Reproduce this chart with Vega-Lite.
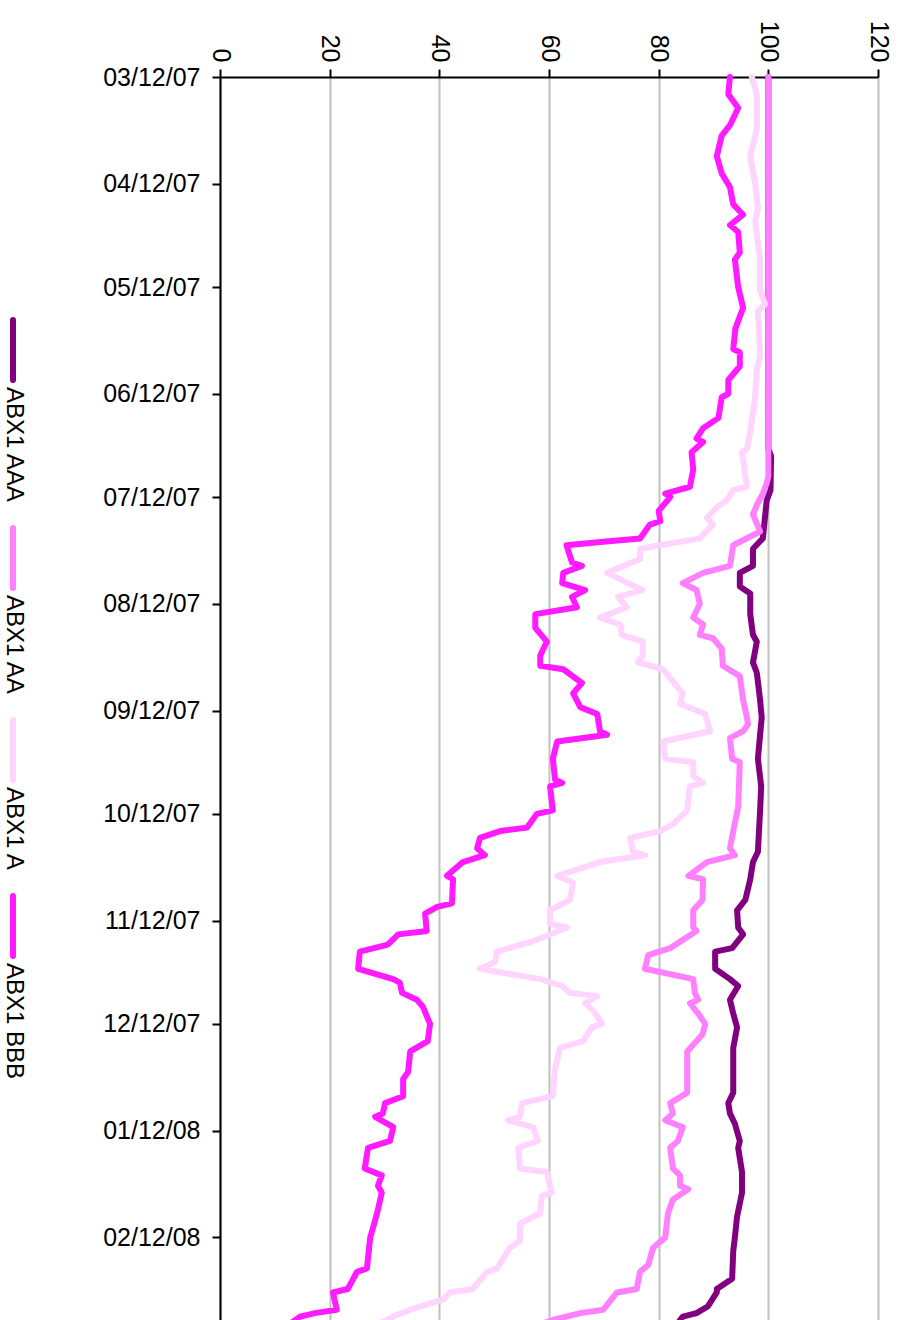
{
"$schema":"https://vega.github.io/schema/vega-lite/v6.json",
"autosize":"none",
"width":658,"height":1243,
"padding":{"left":220,"top":77,"right":25,"bottom":0},
"background":"white",
"data":{"values":[
{"s":"ABX1 AAA","d":"2007-03-12","v":100},{"s":"ABX1 AAA","d":"2007-06-28","v":100},{"s":"ABX1 AAA","d":"2007-06-30","v":100.5},{"s":"ABX1 AAA","d":"2007-07-10","v":100.4},{"s":"ABX1 AAA","d":"2007-07-13","v":99.7},{"s":"ABX1 AAA","d":"2007-07-24","v":99},{"s":"ABX1 AAA","d":"2007-07-27","v":97.2},{"s":"ABX1 AAA","d":"2007-08-01","v":97.2},{"s":"ABX1 AAA","d":"2007-08-03","v":94.8},{"s":"ABX1 AAA","d":"2007-08-07","v":94.8},{"s":"ABX1 AAA","d":"2007-08-09","v":96.7},{"s":"ABX1 AAA","d":"2007-08-15","v":96.7},{"s":"ABX1 AAA","d":"2007-08-21","v":97.2},{"s":"ABX1 AAA","d":"2007-08-23","v":97.9},{"s":"ABX1 AAA","d":"2007-08-29","v":97.2},{"s":"ABX1 AAA","d":"2007-09-01","v":97.9},{"s":"ABX1 AAA","d":"2007-09-09","v":98.5},{"s":"ABX1 AAA","d":"2007-09-14","v":98.8},{"s":"ABX1 AAA","d":"2007-09-19","v":98.5},{"s":"ABX1 AAA","d":"2007-09-26","v":98.1},{"s":"ABX1 AAA","d":"2007-10-04","v":98.7},{"s":"ABX1 AAA","d":"2007-10-11","v":98.5},{"s":"ABX1 AAA","d":"2007-10-23","v":98.1},{"s":"ABX1 AAA","d":"2007-10-26","v":97.2},{"s":"ABX1 AAA","d":"2007-10-31","v":96.7},{"s":"ABX1 AAA","d":"2007-11-06","v":95.8},{"s":"ABX1 AAA","d":"2007-11-09","v":94.3},{"s":"ABX1 AAA","d":"2007-11-14","v":94.5},{"s":"ABX1 AAA","d":"2007-11-16","v":95.4},{"s":"ABX1 AAA","d":"2007-11-20","v":93.4},{"s":"ABX1 AAA","d":"2007-11-21","v":90.3},{"s":"ABX1 AAA","d":"2007-11-26","v":90.3},{"s":"ABX1 AAA","d":"2007-11-29","v":93},{"s":"ABX1 AAA","d":"2007-12-01","v":94.5},{"s":"ABX1 AAA","d":"2007-12-05","v":93},{"s":"ABX1 AAA","d":"2007-12-09","v":93.6},{"s":"ABX1 AAA","d":"2007-12-13","v":94.3},{"s":"ABX1 AAA","d":"2007-12-19","v":93.6},{"s":"ABX1 AAA","d":"2008-01-01","v":93.6},{"s":"ABX1 AAA","d":"2008-01-04","v":92.7},{"s":"ABX1 AAA","d":"2008-01-07","v":93},{"s":"ABX1 AAA","d":"2008-01-10","v":93.9},{"s":"ABX1 AAA","d":"2008-01-15","v":94.8},{"s":"ABX1 AAA","d":"2008-01-17","v":94.5},{"s":"ABX1 AAA","d":"2008-01-24","v":95.2},{"s":"ABX1 AAA","d":"2008-01-30","v":95.2},{"s":"ABX1 AAA","d":"2008-02-06","v":94.3},{"s":"ABX1 AAA","d":"2008-02-12","v":93.9},{"s":"ABX1 AAA","d":"2008-02-16","v":93.6},{"s":"ABX1 AAA","d":"2008-02-24","v":93.4},{"s":"ABX1 AAA","d":"2008-02-27","v":90.6},{"s":"ABX1 AAA","d":"2008-02-28","v":90.6},{"s":"ABX1 AAA","d":"2008-03-03","v":89},{"s":"ABX1 AAA","d":"2008-03-05","v":86.9},{"s":"ABX1 AAA","d":"2008-03-06","v":84.4},{"s":"ABX1 AAA","d":"2008-03-09","v":83},
{"s":"ABX1 AA","d":"2007-03-12","v":100},{"s":"ABX1 AA","d":"2007-07-06","v":100},{"s":"ABX1 AA","d":"2007-07-08","v":99.7},{"s":"ABX1 AA","d":"2007-07-11","v":99},{"s":"ABX1 AA","d":"2007-07-14","v":98},{"s":"ABX1 AA","d":"2007-07-17","v":97.2},{"s":"ABX1 AA","d":"2007-07-22","v":98.5},{"s":"ABX1 AA","d":"2007-07-26","v":93.6},{"s":"ABX1 AA","d":"2007-08-01","v":93},{"s":"ABX1 AA","d":"2007-08-03","v":88.1},{"s":"ABX1 AA","d":"2007-08-06","v":84.4},{"s":"ABX1 AA","d":"2007-08-08","v":86.9},{"s":"ABX1 AA","d":"2007-08-12","v":87.5},{"s":"ABX1 AA","d":"2007-08-16","v":86.3},{"s":"ABX1 AA","d":"2007-08-18","v":88.1},{"s":"ABX1 AA","d":"2007-08-21","v":87.5},{"s":"ABX1 AA","d":"2007-08-22","v":89.9},{"s":"ABX1 AA","d":"2007-08-25","v":91.5},{"s":"ABX1 AA","d":"2007-08-30","v":91.7},{"s":"ABX1 AA","d":"2007-09-02","v":94.8},{"s":"ABX1 AA","d":"2007-09-09","v":95.4},{"s":"ABX1 AA","d":"2007-09-14","v":96.1},{"s":"ABX1 AA","d":"2007-09-16","v":96.3},{"s":"ABX1 AA","d":"2007-09-18","v":95.4},{"s":"ABX1 AA","d":"2007-09-20","v":93},{"s":"ABX1 AA","d":"2007-09-26","v":93.4},{"s":"ABX1 AA","d":"2007-09-27","v":94.8},{"s":"ABX1 AA","d":"2007-10-10","v":94.5},{"s":"ABX1 AA","d":"2007-10-17","v":93.6},{"s":"ABX1 AA","d":"2007-10-22","v":93},{"s":"ABX1 AA","d":"2007-10-24","v":93.9},{"s":"ABX1 AA","d":"2007-10-26","v":88.8},{"s":"ABX1 AA","d":"2007-10-30","v":85.4},{"s":"ABX1 AA","d":"2007-10-31","v":88.1},{"s":"ABX1 AA","d":"2007-11-06","v":88},{"s":"ABX1 AA","d":"2007-11-09","v":86.3},{"s":"ABX1 AA","d":"2007-11-14","v":86.3},{"s":"ABX1 AA","d":"2007-11-15","v":86.9},{"s":"ABX1 AA","d":"2007-11-20","v":82.1},{"s":"ABX1 AA","d":"2007-11-22","v":78.1},{"s":"ABX1 AA","d":"2007-11-26","v":77.5},{"s":"ABX1 AA","d":"2007-11-29","v":86.3},{"s":"ABX1 AA","d":"2007-12-03","v":86.6},{"s":"ABX1 AA","d":"2007-12-05","v":87.2},{"s":"ABX1 AA","d":"2007-12-06","v":85.7},{"s":"ABX1 AA","d":"2007-12-09","v":87.2},{"s":"ABX1 AA","d":"2007-12-12","v":88.5},{"s":"ABX1 AA","d":"2007-12-15","v":88},{"s":"ABX1 AA","d":"2007-12-20","v":85.2},{"s":"ABX1 AA","d":"2008-01-01","v":85.2},{"s":"ABX1 AA","d":"2008-01-04","v":82.1},{"s":"ABX1 AA","d":"2008-01-07","v":82.6},{"s":"ABX1 AA","d":"2008-01-09","v":81.2},{"s":"ABX1 AA","d":"2008-01-11","v":84.4},{"s":"ABX1 AA","d":"2008-01-15","v":83.5},{"s":"ABX1 AA","d":"2008-01-17","v":82.1},{"s":"ABX1 AA","d":"2008-01-23","v":82.6},{"s":"ABX1 AA","d":"2008-01-25","v":83.9},{"s":"ABX1 AA","d":"2008-01-28","v":83.9},{"s":"ABX1 AA","d":"2008-01-29","v":85.4},{"s":"ABX1 AA","d":"2008-02-01","v":82.6},{"s":"ABX1 AA","d":"2008-02-05","v":81.7},{"s":"ABX1 AA","d":"2008-02-12","v":81.2},{"s":"ABX1 AA","d":"2008-02-15","v":79},{"s":"ABX1 AA","d":"2008-02-20","v":78.1},{"s":"ABX1 AA","d":"2008-02-22","v":76.6},{"s":"ABX1 AA","d":"2008-02-27","v":76},{"s":"ABX1 AA","d":"2008-02-28","v":72.4},{"s":"ABX1 AA","d":"2008-03-04","v":69.9},{"s":"ABX1 AA","d":"2008-03-05","v":65.7},{"s":"ABX1 AA","d":"2008-03-07","v":60.7},{"s":"ABX1 AA","d":"2008-03-09","v":57},
{"s":"ABX1 A","d":"2007-03-12","v":97},{"s":"ABX1 A","d":"2007-03-17","v":97.9},{"s":"ABX1 A","d":"2007-03-27","v":97.9},{"s":"ABX1 A","d":"2007-04-04","v":96.7},{"s":"ABX1 A","d":"2007-04-12","v":97.6},{"s":"ABX1 A","d":"2007-04-19","v":98.1},{"s":"ABX1 A","d":"2007-04-23","v":97.6},{"s":"ABX1 A","d":"2007-05-04","v":98.5},{"s":"ABX1 A","d":"2007-05-13","v":98.5},{"s":"ABX1 A","d":"2007-05-17","v":99.4},{"s":"ABX1 A","d":"2007-05-19","v":98.1},{"s":"ABX1 A","d":"2007-06-01","v":98.5},{"s":"ABX1 A","d":"2007-06-05","v":97.9},{"s":"ABX1 A","d":"2007-06-13","v":97.6},{"s":"ABX1 A","d":"2007-06-23","v":96.7},{"s":"ABX1 A","d":"2007-06-28","v":96.1},{"s":"ABX1 A","d":"2007-06-29","v":95.2},{"s":"ABX1 A","d":"2007-07-09","v":96.1},{"s":"ABX1 A","d":"2007-07-10","v":93.6},{"s":"ABX1 A","d":"2007-07-13","v":92.4},{"s":"ABX1 A","d":"2007-07-15","v":90.6},{"s":"ABX1 A","d":"2007-07-18","v":88.8},{"s":"ABX1 A","d":"2007-07-20","v":89.9},{"s":"ABX1 A","d":"2007-07-24","v":87.5},{"s":"ABX1 A","d":"2007-07-27","v":76.6},{"s":"ABX1 A","d":"2007-07-30","v":76.6},{"s":"ABX1 A","d":"2007-08-03","v":70.6},{"s":"ABX1 A","d":"2007-08-08","v":77},{"s":"ABX1 A","d":"2007-08-10","v":72.6},{"s":"ABX1 A","d":"2007-08-13","v":74.2},{"s":"ABX1 A","d":"2007-08-16","v":69.3},{"s":"ABX1 A","d":"2007-08-18","v":73},{"s":"ABX1 A","d":"2007-08-21","v":73.3},{"s":"ABX1 A","d":"2007-08-23","v":77.1},{"s":"ABX1 A","d":"2007-08-27","v":77.1},{"s":"ABX1 A","d":"2007-08-29","v":76.2},{"s":"ABX1 A","d":"2007-08-31","v":80.8},{"s":"ABX1 A","d":"2007-09-07","v":84.4},{"s":"ABX1 A","d":"2007-09-10","v":83.9},{"s":"ABX1 A","d":"2007-09-13","v":88.5},{"s":"ABX1 A","d":"2007-09-18","v":89.4},{"s":"ABX1 A","d":"2007-09-21","v":80.8},{"s":"ABX1 A","d":"2007-09-26","v":81.2},{"s":"ABX1 A","d":"2007-09-27","v":86.3},{"s":"ABX1 A","d":"2007-10-01","v":86.3},{"s":"ABX1 A","d":"2007-10-03","v":88.1},{"s":"ABX1 A","d":"2007-10-04","v":85.7},{"s":"ABX1 A","d":"2007-10-11","v":85.2},{"s":"ABX1 A","d":"2007-10-15","v":82.6},{"s":"ABX1 A","d":"2007-10-17","v":80.3},{"s":"ABX1 A","d":"2007-10-19","v":74.8},{"s":"ABX1 A","d":"2007-10-23","v":75.3},{"s":"ABX1 A","d":"2007-10-24","v":77.5},{"s":"ABX1 A","d":"2007-10-26","v":69.3},{"s":"ABX1 A","d":"2007-10-30","v":61.5},{"s":"ABX1 A","d":"2007-11-01","v":64.4},{"s":"ABX1 A","d":"2007-11-06","v":63.8},{"s":"ABX1 A","d":"2007-11-09","v":60.2},{"s":"ABX1 A","d":"2007-11-13","v":60.2},{"s":"ABX1 A","d":"2007-11-14","v":63.3},{"s":"ABX1 A","d":"2007-11-18","v":57.1},{"s":"ABX1 A","d":"2007-11-21","v":50.5},{"s":"ABX1 A","d":"2007-11-24","v":50.2},{"s":"ABX1 A","d":"2007-11-26","v":47.4},{"s":"ABX1 A","d":"2007-11-29","v":58.4},{"s":"ABX1 A","d":"2007-12-01","v":62.4},{"s":"ABX1 A","d":"2007-12-03","v":63.8},{"s":"ABX1 A","d":"2007-12-04","v":68.8},{"s":"ABX1 A","d":"2007-12-06","v":66.6},{"s":"ABX1 A","d":"2007-12-08","v":68},{"s":"ABX1 A","d":"2007-12-12","v":69.7},{"s":"ABX1 A","d":"2007-12-13","v":67.8},{"s":"ABX1 A","d":"2007-12-17","v":66.2},{"s":"ABX1 A","d":"2007-12-19","v":62},{"s":"ABX1 A","d":"2007-12-25","v":61.1},{"s":"ABX1 A","d":"2008-01-02","v":60.7},{"s":"ABX1 A","d":"2008-01-04","v":55.1},{"s":"ABX1 A","d":"2008-01-08","v":54.7},{"s":"ABX1 A","d":"2008-01-09","v":52.5},{"s":"ABX1 A","d":"2008-01-11","v":57.1},{"s":"ABX1 A","d":"2008-01-15","v":58},{"s":"ABX1 A","d":"2008-01-17","v":54.4},{"s":"ABX1 A","d":"2008-01-23","v":54.7},{"s":"ABX1 A","d":"2008-01-24","v":59.6},{"s":"ABX1 A","d":"2008-01-30","v":60.5},{"s":"ABX1 A","d":"2008-01-31","v":58.7},{"s":"ABX1 A","d":"2008-02-05","v":58.4},{"s":"ABX1 A","d":"2008-02-08","v":54.7},{"s":"ABX1 A","d":"2008-02-13","v":54.7},{"s":"ABX1 A","d":"2008-02-15","v":52.9},{"s":"ABX1 A","d":"2008-02-21","v":50.5},{"s":"ABX1 A","d":"2008-02-22","v":48.7},{"s":"ABX1 A","d":"2008-02-27","v":46.1},{"s":"ABX1 A","d":"2008-02-28","v":41.9},{"s":"ABX1 A","d":"2008-03-01","v":40.7},{"s":"ABX1 A","d":"2008-03-04","v":34.7},{"s":"ABX1 A","d":"2008-03-06","v":31.6},{"s":"ABX1 A","d":"2008-03-09","v":28},
{"s":"ABX1 BBB","d":"2007-03-12","v":93},{"s":"ABX1 BBB","d":"2007-03-17","v":92.7},{"s":"ABX1 BBB","d":"2007-03-21","v":94.5},{"s":"ABX1 BBB","d":"2007-03-26","v":93},{"s":"ABX1 BBB","d":"2007-03-29","v":91.5},{"s":"ABX1 BBB","d":"2007-04-04","v":90.6},{"s":"ABX1 BBB","d":"2007-04-09","v":91.5},{"s":"ABX1 BBB","d":"2007-04-13","v":93},{"s":"ABX1 BBB","d":"2007-04-18","v":93.6},{"s":"ABX1 BBB","d":"2007-04-21","v":95.4},{"s":"ABX1 BBB","d":"2007-04-24","v":93},{"s":"ABX1 BBB","d":"2007-04-26","v":94.5},{"s":"ABX1 BBB","d":"2007-05-02","v":94.8},{"s":"ABX1 BBB","d":"2007-05-04","v":93.9},{"s":"ABX1 BBB","d":"2007-05-12","v":94.5},{"s":"ABX1 BBB","d":"2007-05-18","v":95.4},{"s":"ABX1 BBB","d":"2007-05-24","v":94},{"s":"ABX1 BBB","d":"2007-05-30","v":93.6},{"s":"ABX1 BBB","d":"2007-05-31","v":94.8},{"s":"ABX1 BBB","d":"2007-06-04","v":94.8},{"s":"ABX1 BBB","d":"2007-06-08","v":92.7},{"s":"ABX1 BBB","d":"2007-06-12","v":92.7},{"s":"ABX1 BBB","d":"2007-06-13","v":91.5},{"s":"ABX1 BBB","d":"2007-06-19","v":90.9},{"s":"ABX1 BBB","d":"2007-06-22","v":88.1},{"s":"ABX1 BBB","d":"2007-06-25","v":86.9},{"s":"ABX1 BBB","d":"2007-06-26","v":88.1},{"s":"ABX1 BBB","d":"2007-06-29","v":86},{"s":"ABX1 BBB","d":"2007-07-04","v":86.3},{"s":"ABX1 BBB","d":"2007-07-09","v":85.7},{"s":"ABX1 BBB","d":"2007-07-11","v":81.2},{"s":"ABX1 BBB","d":"2007-07-12","v":82.1},{"s":"ABX1 BBB","d":"2007-07-16","v":80},{"s":"ABX1 BBB","d":"2007-07-19","v":80.3},{"s":"ABX1 BBB","d":"2007-07-20","v":78.4},{"s":"ABX1 BBB","d":"2007-07-24","v":76.6},{"s":"ABX1 BBB","d":"2007-07-25","v":69.9},{"s":"ABX1 BBB","d":"2007-07-26","v":63.2},{"s":"ABX1 BBB","d":"2007-07-31","v":64.2},{"s":"ABX1 BBB","d":"2007-08-01","v":66},{"s":"ABX1 BBB","d":"2007-08-03","v":62.6},{"s":"ABX1 BBB","d":"2007-08-06","v":62.4},{"s":"ABX1 BBB","d":"2007-08-08","v":66.6},{"s":"ABX1 BBB","d":"2007-08-10","v":64.2},{"s":"ABX1 BBB","d":"2007-08-13","v":65.1},{"s":"ABX1 BBB","d":"2007-08-15","v":57.5},{"s":"ABX1 BBB","d":"2007-08-19","v":57.5},{"s":"ABX1 BBB","d":"2007-08-23","v":59.6},{"s":"ABX1 BBB","d":"2007-08-27","v":58.4},{"s":"ABX1 BBB","d":"2007-08-30","v":58.4},{"s":"ABX1 BBB","d":"2007-08-31","v":62.6},{"s":"ABX1 BBB","d":"2007-09-04","v":66},{"s":"ABX1 BBB","d":"2007-09-07","v":64.4},{"s":"ABX1 BBB","d":"2007-09-11","v":65.7},{"s":"ABX1 BBB","d":"2007-09-13","v":68.8},{"s":"ABX1 BBB","d":"2007-09-18","v":69.3},{"s":"ABX1 BBB","d":"2007-09-19","v":70.6},{"s":"ABX1 BBB","d":"2007-09-21","v":61.5},{"s":"ABX1 BBB","d":"2007-09-26","v":60.7},{"s":"ABX1 BBB","d":"2007-10-02","v":61.1},{"s":"ABX1 BBB","d":"2007-10-03","v":62.4},{"s":"ABX1 BBB","d":"2007-10-04","v":60.2},{"s":"ABX1 BBB","d":"2007-10-11","v":60.7},{"s":"ABX1 BBB","d":"2007-10-12","v":57.8},{"s":"ABX1 BBB","d":"2007-10-16","v":56},{"s":"ABX1 BBB","d":"2007-10-17","v":51.1},{"s":"ABX1 BBB","d":"2007-10-19","v":47.4},{"s":"ABX1 BBB","d":"2007-10-22","v":46.9},{"s":"ABX1 BBB","d":"2007-10-24","v":48.3},{"s":"ABX1 BBB","d":"2007-10-26","v":44.3},{"s":"ABX1 BBB","d":"2007-10-30","v":41.4},{"s":"ABX1 BBB","d":"2007-10-31","v":42.5},{"s":"ABX1 BBB","d":"2007-11-07","v":42.3},{"s":"ABX1 BBB","d":"2007-11-08","v":39.6},{"s":"ABX1 BBB","d":"2007-11-10","v":37.4},{"s":"ABX1 BBB","d":"2007-11-15","v":37.7},{"s":"ABX1 BBB","d":"2007-11-16","v":32.5},{"s":"ABX1 BBB","d":"2007-11-19","v":30.6},{"s":"ABX1 BBB","d":"2007-11-21","v":25.5},{"s":"ABX1 BBB","d":"2007-11-26","v":25.2},{"s":"ABX1 BBB","d":"2007-11-29","v":31.6},{"s":"ABX1 BBB","d":"2007-11-30","v":32.8},{"s":"ABX1 BBB","d":"2007-12-03","v":33.2},{"s":"ABX1 BBB","d":"2007-12-05","v":35.9},{"s":"ABX1 BBB","d":"2007-12-07","v":37},{"s":"ABX1 BBB","d":"2007-12-12","v":38.3},{"s":"ABX1 BBB","d":"2007-12-17","v":37.9},{"s":"ABX1 BBB","d":"2007-12-20","v":34.7},{"s":"ABX1 BBB","d":"2007-12-26","v":34.3},{"s":"ABX1 BBB","d":"2007-12-28","v":33.4},{"s":"ABX1 BBB","d":"2008-01-02","v":33.4},{"s":"ABX1 BBB","d":"2008-01-04","v":30.1},{"s":"ABX1 BBB","d":"2008-01-07","v":29.7},{"s":"ABX1 BBB","d":"2008-01-08","v":28.3},{"s":"ABX1 BBB","d":"2008-01-11","v":31.6},{"s":"ABX1 BBB","d":"2008-01-15","v":31},{"s":"ABX1 BBB","d":"2008-01-17","v":27},{"s":"ABX1 BBB","d":"2008-01-23","v":26.4},{"s":"ABX1 BBB","d":"2008-01-25","v":29.5},{"s":"ABX1 BBB","d":"2008-01-28","v":28.8},{"s":"ABX1 BBB","d":"2008-01-30","v":29.5},{"s":"ABX1 BBB","d":"2008-02-04","v":28.8},{"s":"ABX1 BBB","d":"2008-02-07","v":28.3},{"s":"ABX1 BBB","d":"2008-02-12","v":27.4},{"s":"ABX1 BBB","d":"2008-02-21","v":26.8},{"s":"ABX1 BBB","d":"2008-02-22","v":25},{"s":"ABX1 BBB","d":"2008-02-27","v":23.3},{"s":"ABX1 BBB","d":"2008-02-28","v":20.6},{"s":"ABX1 BBB","d":"2008-03-04","v":21.3},{"s":"ABX1 BBB","d":"2008-03-05","v":17.3},{"s":"ABX1 BBB","d":"2008-03-06","v":14.6},{"s":"ABX1 BBB","d":"2008-03-09","v":12}
]},
"mark":{"type":"line","strokeWidth":6,"strokeJoin":"round","strokeCap":"round"},
"encoding":{
"y":{"field":"d","type":"temporal","scale":{"type":"utc","reverse":true,"domain":[{"year":2007,"month":3,"date":12,"utc":true},{"year":2008,"month":3,"date":7,"utc":true}]},
"axis":{"orient":"left","title":null,"format":"%m/%d/%y","values":[{"year":2007,"month":3,"date":12,"utc":true},{"year":2007,"month":4,"date":12,"utc":true},{"year":2007,"month":5,"date":12,"utc":true},{"year":2007,"month":6,"date":12,"utc":true},{"year":2007,"month":7,"date":12,"utc":true},{"year":2007,"month":8,"date":12,"utc":true},{"year":2007,"month":9,"date":12,"utc":true},{"year":2007,"month":10,"date":12,"utc":true},{"year":2007,"month":11,"date":12,"utc":true},{"year":2007,"month":12,"date":12,"utc":true},{"year":2008,"month":1,"date":12,"utc":true},{"year":2008,"month":2,"date":12,"utc":true}],"labelFont":"Liberation Sans","labelFontSize":25,"labelColor":"black","labelPadding":12,"tickSize":8,"tickWidth":2,"tickColor":"black","domainColor":"black","domainWidth":2,"grid":false,"labelFlush":false,"labelOverlap":false,"labelBound":false}},
"x":{"field":"v","type":"quantitative","scale":{"domain":[0,120],"nice":false,"zero":false},
"axis":{"orient":"top","title":null,"values":[0,20,40,60,80,100,120],"labelAngle":90,"labelFont":"Liberation Sans","labelFontSize":25,"labelColor":"black","labelPadding":7,"tickSize":8,"tickWidth":2,"tickColor":"black","domainColor":"black","domainWidth":2,"grid":true,"gridColor":"#c0c0c0","gridWidth":2,"labelFlush":false,"labelOverlap":false,"labelBound":false}},
"color":{"field":"s","type":"nominal","scale":{"domain":["ABX1 AAA","ABX1 AA","ABX1 A","ABX1 BBB"],"range":["#800080","#ff80ff","#ffd5ff","#ff1aff"]},
"legend":{"orient":"left","title":null,"offset":75,"symbolType":"stroke","symbolSize":3600,"symbolStrokeWidth":6,"labelFont":"Liberation Sans","labelFontSize":24,"labelColor":"black","labelOffset":4,"rowPadding":12,"labelLimit":0,
"encode":{"symbols":{"update":{"angle":{"value":90},"strokeCap":{"value":"round"},"strokeWidth":{"value":6}}},"labels":{"update":{"angle":{"value":90},"dx":{"value":37},"dy":{"value":36}}}}}},
"order":{"field":"d","type":"temporal"}
},
"config":{"view":{"stroke":null},"legend":{"layout":{"left":{"anchor":"middle"}}}}
}
